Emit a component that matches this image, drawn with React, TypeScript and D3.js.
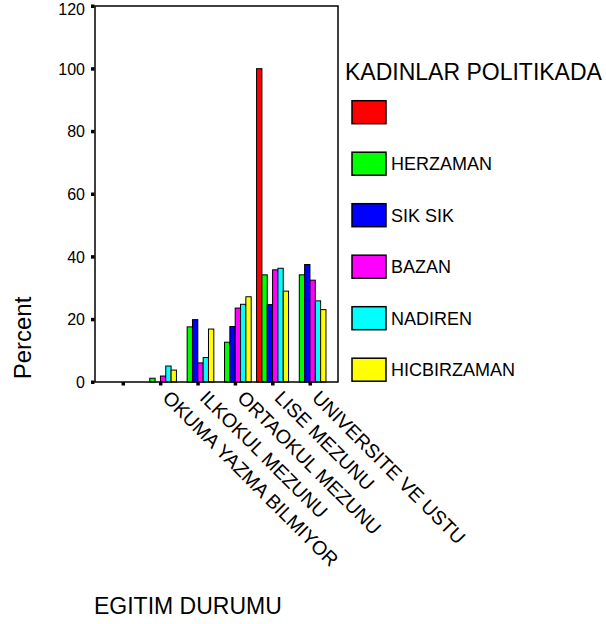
import React from "react";
import * as d3 from "d3";

const categories = ["", "OKUMA YAZMA BILMIYOR", "ILKOKUL MEZUNU", "ORTAOKUL MEZUNU", "LISE MEZUNU", "UNIVERSITE VE USTU"];
const seriesNames = ["", "HERZAMAN", "SIK SIK", "BAZAN", "NADIREN", "HICBIRZAMAN"];
const seriesColors = ["#ff0000", "#00ff00", "#0000ff", "#ff00ff", "#00ffff", "#ffff00"];
// values[series][category] in percent
const redValues = [0, 0, 0, 0, 100, 0];
const herzamanValues = [0, 1.2, 17.6, 12.7, 34.2, 34.2];
const sikSikValues = [0, 0, 19.9, 17.7, 24.7, 37.5];
const bazanValues = [0, 1.9, 6.1, 23.6, 35.8, 32.5];
const nadirenValues = [0, 5.1, 7.8, 24.8, 36.3, 25.9];
const hicbirValues = [0, 3.8, 16.9, 27.2, 29.0, 23.1];
const yTicks = [0, 20, 40, 60, 80, 100, 120];

const allValues = [redValues, herzamanValues, sikSikValues, bazanValues, nadirenValues, hicbirValues];

const FONT = "'Liberation Sans', Arial, sans-serif";

export default function App() {
  const left = 95, right = 338, top = 6, bottom = 382;
  const x = d3.scalePoint<string>().domain(categories.map((_, i) => String(i))).range([left, right]).padding(0.75);
  const y = d3.scaleLinear().domain([0, 120]).range([bottom, top]);
  const groupW = 32;
  const inner = d3.scaleBand<number>().domain(d3.range(6)).range([-groupW / 2, groupW / 2]).padding(0);

  return (
    <svg width={606} height={624} style={{ position: "absolute", left: 0, top: 0, background: "#fff" }} fontFamily={FONT}>
      {/* bars */}
      {allValues.map((vals, s) =>
        vals.map((v, c) =>
          v > 0 ? (
            <rect
              key={`${s}-${c}`}
              x={(x(String(c)) as number) + (inner(s) as number)}
              y={y(v)}
              width={inner.bandwidth()}
              height={y(0) - y(v)}
              fill={seriesColors[s]}
              stroke="#000"
              strokeWidth={1}
            />
          ) : null
        )
      )}
      {/* frame */}
      <rect x={left} y={top} width={right - left} height={bottom - top} fill="none" stroke="#000" strokeWidth={1.5} />
      {/* y ticks */}
      {yTicks.map((t) => (
        <g key={t}>
          <rect x={left - 4} y={y(t) - 1.5} width={3.5} height={3.5} fill="#000" />
          <text x={85} y={Math.max(y(t) + 6, 14.5)} textAnchor="end" fontSize={16} fill="#000">{t}</text>
        </g>
      ))}
      {/* x ticks and labels */}
      {categories.map((c, i) => {
        const cx = x(String(i)) as number;
        return (
          <g key={i}>
            <rect x={cx - 1.5} y={bottom} width={3.5} height={3.5} fill="#000" />
            <text transform={`translate(${cx + 1},${bottom + 17}) rotate(45)`} fontSize={19.5} fill="#000">{c}</text>
          </g>
        );
      })}
      {/* axis titles */}
      <text transform={`translate(31,338) rotate(-90)`} textAnchor="middle" fontSize={24} fill="#000">Percent</text>
      <text x={94} y={614} fontSize={23} fill="#000">EGITIM DURUMU</text>
      {/* legend */}
      <text x={345} y={80} fontSize={23} fill="#000">KADINLAR POLITIKADA</text>
      {seriesNames.map((n, i) => {
        const ly = 100.7 + i * 51.5;
        return (
          <g key={i}>
            <rect x={352} y={ly} width={34} height={23} fill={seriesColors[i]} stroke="#000" strokeWidth={1.5} />
            <text x={391} y={ly + 18} fontSize={18} fill="#000">{n}</text>
          </g>
        );
      })}
    </svg>
  );
}
